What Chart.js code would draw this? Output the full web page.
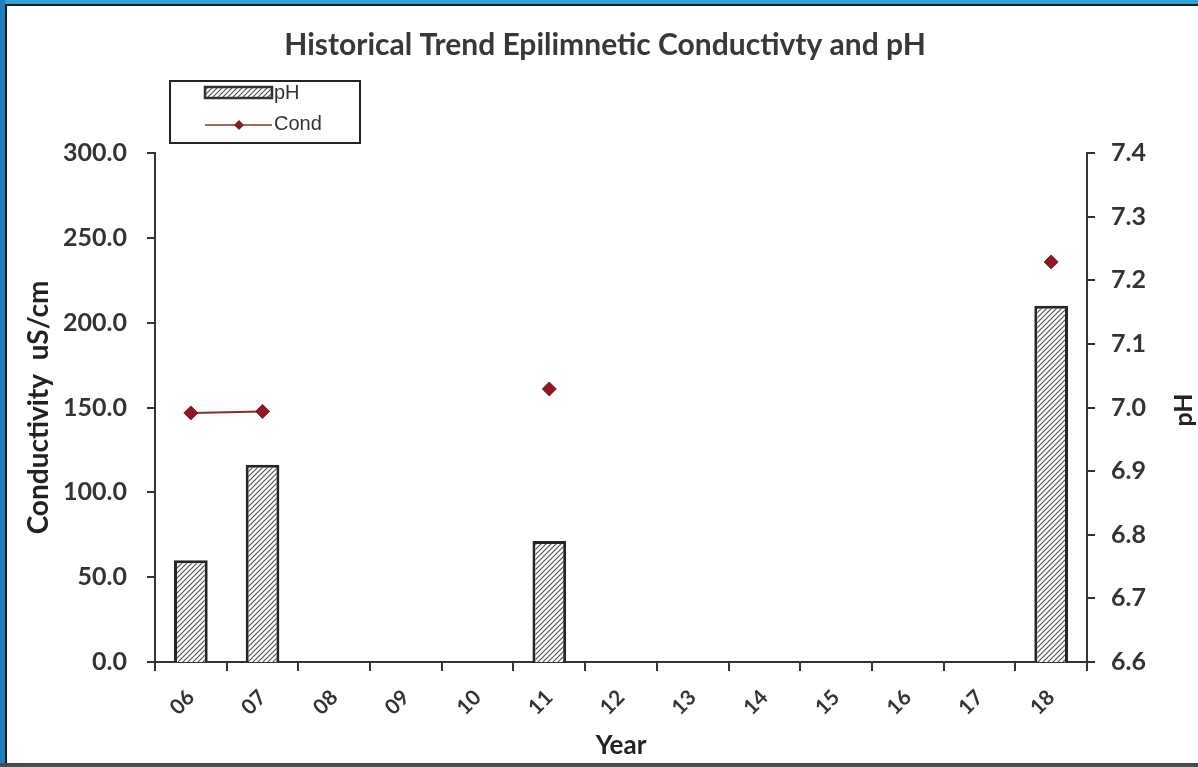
<!DOCTYPE html>
<html>
<head>
<meta charset="utf-8">
<script src="https://cdn.jsdelivr.net/npm/chart.js@4.4.1/dist/chart.umd.min.js"></script>
<style>
    html, body { margin: 0; padding: 0; background: #ffffff; }
    #wrap { position: relative; width: 1198px; height: 767px; overflow: hidden; }
    #categoryChart { position: absolute; left: 0; top: 0; }
    .frame { position: absolute; pointer-events: none; }
</style>
</head>
<body>
<div id="wrap">
    <canvas id="categoryChart" width="1198" height="767"></canvas>
    <div class="frame" style="left:0;top:0;width:1198px;height:4px;background:#35a2d6;"></div>
    <div class="frame" style="left:0;top:4px;width:1198px;height:2px;background:#1e1e1e;"></div>
    <div class="frame" style="left:0;top:0;width:5px;height:767px;background:#1f7fbf;"></div>
    <div class="frame" style="left:5px;top:4px;width:2px;height:763px;background:#1e1e1e;"></div>
    <div class="frame" style="left:0;top:763px;width:1198px;height:4px;background:#4a4a4a;"></div>
</div>
<script>
// years along the x axis
var years = ['06', '07', '08', '09', '10', '11', '12', '13', '14', '15', '16', '17', '18'];

// pH (right axis), bars
var phValues = [6.76, 6.91, null, null, null, 6.79, null, null, null, null, null, null, 7.16];

// conductivity uS/cm (left axis), line with diamonds
var condValues = [146.8, 147.7, null, null, null, 160.9, null, null, null, null, null, null, 235.8];

// tick ranges
var condTicks = [0, 300, 50];
var phTicks = [6.6, 7.4, 0.1];

// hatched fill like the excel bars
function makeHatch() {
    var c = document.createElement('canvas');
    c.width = 5;
    c.height = 5;
    var g = c.getContext('2d');
    g.fillStyle = '#ffffff';
    g.fillRect(0, 0, 5, 5);
    g.strokeStyle = '#555';
    g.lineWidth = 1.2;
    g.beginPath();
    g.moveTo(0, 5); g.lineTo(5, 0);
    g.moveTo(-1, 1); g.lineTo(1, -1);
    g.moveTo(4, 6); g.lineTo(6, 4);
    g.stroke();
    return g.createPattern(c, 'repeat');
}

var ctx = document.getElementById('categoryChart').getContext('2d');
var hatch = makeHatch();
var condColor = '#8c1a26';
var fontFam = 'Lato, "Open Sans", sans-serif';

// legend box + right axis title drawn by hand
var extras = {
    id: 'extras',
    afterDraw: function (chart) {
        var c = chart.ctx;
        c.save();
        // legend box
        c.strokeStyle = '#222';
        c.lineWidth = 2;
        c.strokeRect(170, 81, 190, 62);
        c.fillStyle = hatch;
        c.fillRect(205, 87, 67, 11);
        c.strokeStyle = '#333';
        c.lineWidth = 2.5;
        c.strokeRect(205, 87, 67, 11);
        c.strokeStyle = '#8a3a3a';
        c.lineWidth = 1.5;
        c.beginPath();
        c.moveTo(205, 125);
        c.lineTo(272, 125);
        c.stroke();
        c.fillStyle = condColor;
        c.beginPath();
        c.moveTo(239, 120); c.lineTo(244, 125); c.lineTo(239, 130); c.lineTo(234, 125);
        c.closePath();
        c.fill();
        c.fillStyle = '#333';
        c.font = '20px "Liberation Sans", Arial, sans-serif';
        c.textBaseline = 'middle';
        c.textAlign = 'left';
        c.fillText('pH', 274, 93);
        c.fillText('Cond', 274, 124);
        // right axis title
        c.translate(1184, 410);
        c.rotate(-Math.PI / 2);
        c.textAlign = 'center';
        c.font = 'bold 25px ' + fontFam;
        c.fillStyle = '#222';
        c.fillText('pH', 0, 0);
        c.restore();
    }
};

var tickFont = { family: fontFam, size: 25, weight: 'bold' };

var myChart = new Chart(ctx, {
    type: 'bar',
    data: {
        labels: years,
        datasets: [{
            type: 'line',
            label: 'Cond',
            data: condValues,
            yAxisID: 'y',
            borderColor: '#8a2a2a',
            borderWidth: 2,
            pointStyle: 'rectRot',
            pointRadius: 7,
            pointBackgroundColor: condColor,
            pointBorderColor: condColor,
            pointBorderWidth: 1,
            spanGaps: false,
            order: 0
        }, {
            label: 'pH',
            data: phValues,
            yAxisID: 'y1',
            backgroundColor: hatch,
            borderColor: '#262626',
            borderWidth: 3,
            borderSkipped: false,
            categoryPercentage: 1,
            barPercentage: 0.47,
            order: 1
        }]
    },
    options: {
        responsive: false,
        animation: false,
        layout: { padding: { left: 22, right: 10, top: 0, bottom: 6 } },
        scales: {
            x: {
                offset: true,
                grid: { display: true, drawOnChartArea: false, offset: true, tickLength: 9, color: '#333', lineWidth: 2 },
                border: { color: '#333', width: 2 },
                ticks: { color: '#333', font: { family: fontFam, size: 21, weight: 'bold' }, minRotation: 45, maxRotation: 45, padding: 14 },
                title: { display: true, text: 'Year', color: '#222', font: { family: fontFam, size: 26, weight: 'bold' }, padding: { top: 0, bottom: 0 } },
                afterFit: function (s) { s.height = 99; }
            },
            y: {
                position: 'left',
                min: condTicks[0],
                max: condTicks[1],
                ticks: {
                    stepSize: condTicks[2],
                    color: '#333',
                    font: tickFont,
                    padding: 20,
                    callback: function (v) { return Number(v).toFixed(1); }
                },
                grid: { display: true, drawOnChartArea: false, tickLength: 8, color: '#333', lineWidth: 2 },
                border: { color: '#333', width: 2 },
                title: { display: true, text: 'Conductivity  uS/cm', color: '#222', font: { family: fontFam, size: 28, weight: 'bold' }, padding: 0 },
                afterFit: function (s) { s.width = 133; }
            },
            y1: {
                position: 'right',
                min: phTicks[0],
                max: phTicks[1],
                ticks: {
                    stepSize: phTicks[2],
                    color: '#333',
                    font: tickFont,
                    padding: 16,
                    callback: function (v) { return Number(v).toFixed(1); }
                },
                grid: { display: true, drawOnChartArea: false, tickLength: 8, color: '#333', lineWidth: 2 },
                border: { color: '#333', width: 2 },
                afterFit: function (s) { s.width = 101; }
            }
        },
        plugins: {
            legend: { display: false },
            tooltip: { enabled: false },
            title: {
                display: true,
                text: 'Historical Trend Epilimnetic Conductivty and pH',
                color: '#383838',
                font: { family: fontFam, size: 30, weight: 'bold', lineHeight: 1.2 },
                padding: { top: 27, bottom: 90 }
            }
        }
    },
    plugins: [extras]
});
</script>
</body>
</html>
